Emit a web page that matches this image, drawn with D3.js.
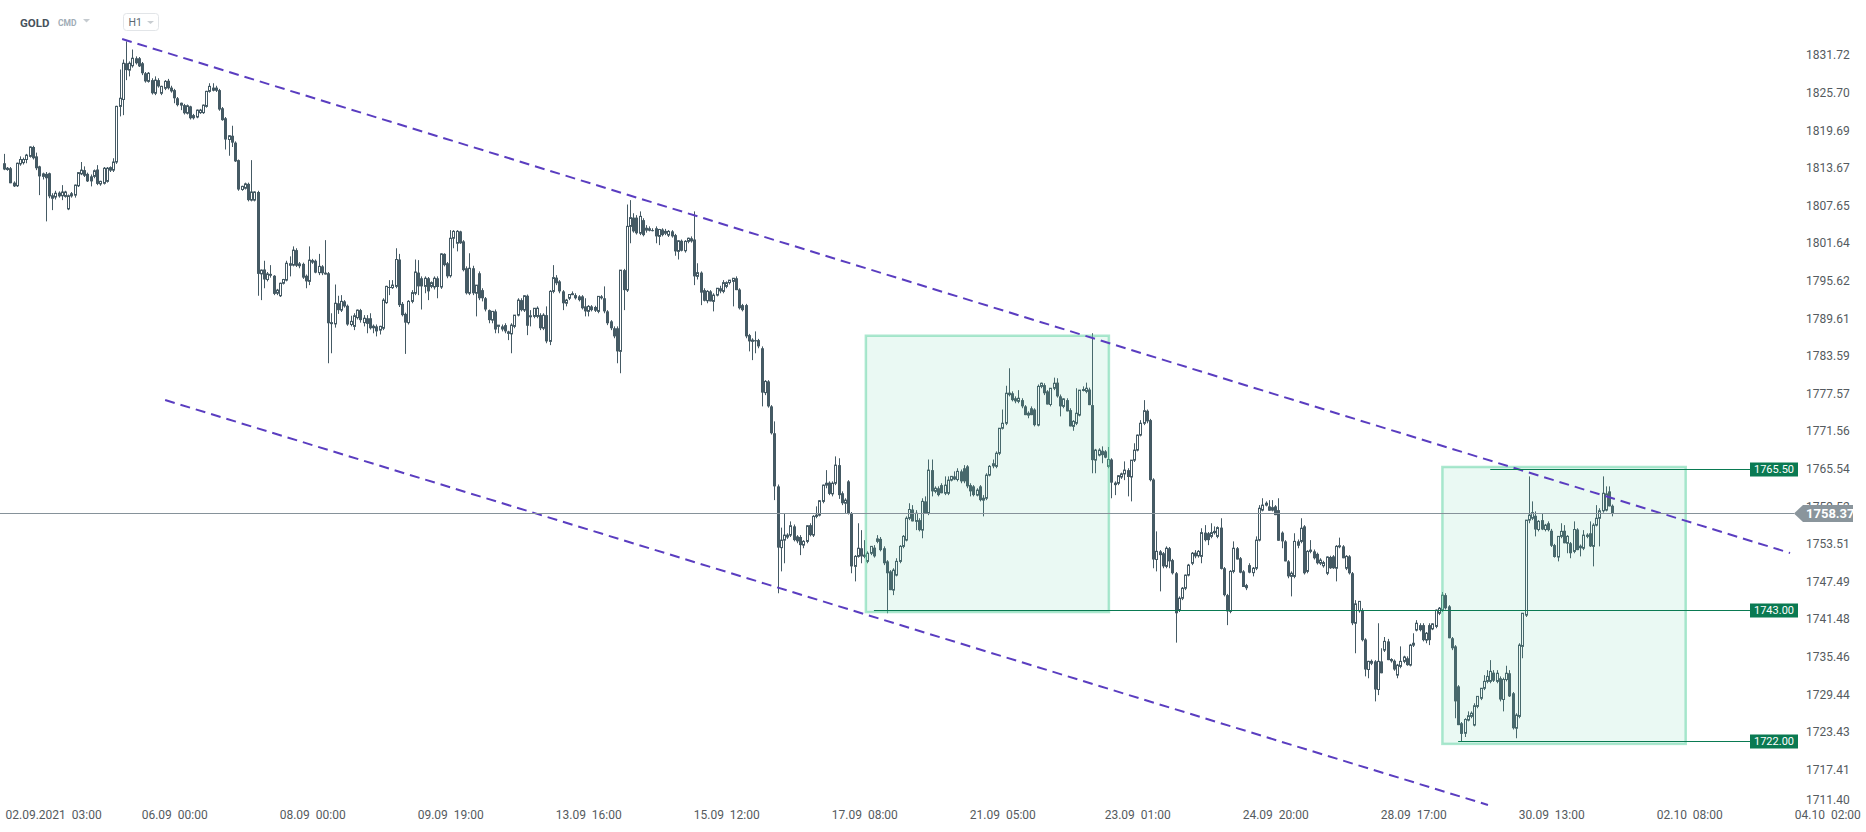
<!DOCTYPE html>
<html><head><meta charset="utf-8">
<script src="https://cdn.jsdelivr.net/npm/d3@7"></script>
<style>
html,body{margin:0;padding:0;background:#fff;}
svg{display:block;font-family:Roboto,"Noto Sans",sans-serif;}
text{white-space:pre;}
</style></head><body>
<svg id="chart" width="1866" height="832"></svg>
<script>
// ---------------- DATA ----------------
const symbolName = "GOLD", marketName = "CMD", intervalName = "H1";
const priceTicks = [1831.72,1825.70,1819.69,1813.67,1807.65,1801.64,1795.62,1789.61,1783.59,1777.57,1771.56,1765.54,1759.52,1753.51,1747.49,1741.48,1735.46,1729.44,1723.43,1717.41,1711.40];
const timeLabels = ["02.09.2021  03:00","06.09  00:00","08.09  00:00","09.09  19:00","13.09  16:00","15.09  12:00","17.09  08:00","21.09  05:00","23.09  01:00","24.09  20:00","28.09  17:00","30.09  13:00","02.10  08:00","04.10  02:00"];
const timeLabelIndex = [10,53,96,139,182,225,268,311,353,396,439,482,525,568];
const lastPrice = 1758.37;
const levelPrices = [1765.50, 1743.00, 1722.00];
const levelStartIndex = [463, 271, 453];
const zoneFrom = [268.5, 448.1];
const zoneTo = [344.2, 523.9];
const zoneHigh = [1786.8, 1765.8];
const zoneLow = [1742.6, 1721.5];
const channelUpper = [[36.8, 1834.28], [556.4, 1752.04]];
const channelLower = [[50.2, 1776.52], [462.3, 1711.72]];

// hourly candles [open, high, low, close]
const candlesA = [
[1814.4,1815.9,1813.3,1813.4],[1813.4,1813.8,1813.2,1813.6],[1813.6,1813.8,1811.2,1811.2],[1811.3,1811.5,1810.6,1810.7],
[1810.8,1814.5,1810.6,1814.4],[1814.3,1815.5,1814.0,1815.0],[1814.5,1815.3,1814.2,1815.0],[1815.0,1815.9,1814.4,1815.7],
[1815.5,1817.1,1815.3,1817.0],[1817.0,1817.2,1815.0,1815.2],[1815.5,1816.1,1813.3,1813.6],[1813.9,1814.0,1809.3,1812.3],
[1812.3,1812.9,1811.8,1812.7],[1812.7,1813.0,1805.1,1812.0],[1812.8,1812.9,1808.8,1809.1],[1808.8,1809.6,1806.9,1809.2],
[1809.0,1810.0,1808.6,1809.6],[1809.7,1809.9,1808.9,1809.1],[1809.2,1810.9,1808.5,1809.8],[1809.1,1810.0,1808.9,1809.8],
[1807.1,1809.4,1806.9,1809.2],[1809.6,1809.8,1808.9,1809.1],[1809.3,1811.0,1808.9,1810.9],[1810.8,1813.0,1810.6,1812.9],
[1812.7,1814.6,1812.5,1813.3],[1813.3,1813.9,1812.2,1812.4],[1812.7,1812.9,1811.4,1811.5],[1812.3,1812.6,1810.7,1811.5],
[1812.3,1813.4,1812.0,1813.2],[1813.4,1814.1,1810.9,1811.1],[1811.1,1811.6,1810.8,1811.5],[1811.2,1813.8,1811.0,1813.6],
[1811.5,1813.8,1811.3,1813.6],[1813.3,1813.9,1813.0,1813.7],[1813.3,1815.2,1813.0,1814.6],[1814.6,1823.6,1814.3,1823.5],
[1823.5,1829.4,1821.9,1824.8],[1824.6,1831.0,1822.1,1830.4],[1830.4,1833.9,1827.7,1829.3],[1829.3,1830.7,1828.3,1830.4],
[1830.0,1832.6,1829.7,1831.2],[1831.2,1831.5,1830.2,1830.4],[1831.2,1831.4,1829.8,1829.9],[1830.4,1830.6,1828.5,1828.8],
[1828.8,1829.0,1827.3,1827.5],[1827.5,1829.0,1827.3,1828.8],[1827.7,1828.0,1825.4,1825.6],[1825.6,1828.3,1825.3,1827.7],
[1827.7,1828.0,1826.5,1826.7],[1825.6,1826.8,1825.3,1826.7],[1826.4,1827.7,1826.1,1827.5],[1827.6,1827.9,1826.2,1826.4],
[1826.5,1826.8,1825.7,1825.9],[1826.1,1826.3,1824.0,1824.8],[1824.8,1825.0,1823.5,1823.7],[1823.7,1824.1,1822.9,1824.0],
[1823.7,1823.9,1822.2,1822.4],[1822.4,1823.8,1822.2,1823.6],[1823.5,1823.6,1821.4,1821.6],[1822.1,1822.3,1821.4,1821.6],
[1821.8,1823.0,1821.6,1822.9],[1822.5,1823.1,1822.3,1822.9],[1822.5,1823.8,1822.3,1823.7],[1823.5,1826.0,1823.3,1825.9],
[1825.9,1827.2,1825.7,1826.7],[1826.5,1827.2,1825.9,1826.0],[1826.5,1826.8,1825.8,1826.0],[1826.1,1826.3,1822.8,1823.0],
[1823.2,1823.4,1821.2,1821.3],[1821.6,1821.8,1816.6,1818.2],[1818.2,1818.9,1815.6,1818.8],[1818.8,1820.4,1817.0,1817.7],
[1817.7,1817.9,1814.6,1814.7],[1814.9,1815.0,1810.0,1810.2],[1810.2,1810.8,1810.0,1810.7],[1810.4,1811.3,1810.2,1811.1],
[1811.1,1811.3,1808.3,1808.5],[1808.5,1814.9,1808.3,1809.8],[1808.5,1809.9,1808.3,1809.8]
];
const candlesB = [
[1809.8,1810.0,1793.2,1796.7],[1796.7,1797.4,1792.5,1797.3],[1797.4,1798.8,1794.4,1795.8],[1795.8,1797.0,1795.5,1796.7],
[1796.7,1798.1,1796.1,1796.4],[1796.4,1796.5,1793.3,1793.5],[1793.6,1794.3,1793.3,1794.1],[1793.2,1795.3,1793.0,1795.2],
[1795.2,1795.9,1795.0,1795.8],[1795.7,1798.8,1795.5,1798.4],[1798.4,1799.5,1796.3,1798.0],[1798.1,1801.1,1797.9,1800.5],
[1800.5,1800.8,1797.8,1798.0],[1798.0,1798.6,1797.6,1798.3],[1798.3,1798.5,1795.9,1796.1],[1796.4,1796.6,1794.4,1795.5],
[1795.5,1801.1,1794.9,1798.9],[1798.9,1799.1,1798.3,1798.5],[1798.8,1799.0,1796.8,1796.9],[1796.9,1799.9,1796.5,1797.9],
[1797.9,1798.1,1796.5,1796.8],[1796.9,1802.1,1796.6,1796.6],[1796.8,1797.0,1782.4,1788.8],[1788.8,1790.4,1784.0,1788.9],
[1788.7,1795.0,1788.1,1792.0],[1792.0,1793.2,1790.3,1790.9],[1790.9,1793.3,1790.6,1792.3],[1792.3,1792.5,1791.3,1791.5],
[1791.6,1791.8,1788.4,1788.6],[1788.6,1790.0,1788.3,1789.1],[1788.3,1790.4,1787.7,1790.0],[1789.7,1791.0,1789.4,1790.9],
[1790.9,1791.1,1788.9,1789.3],[1788.9,1790.1,1788.3,1789.6],[1789.6,1790.1,1787.2,1788.7],[1789.6,1790.4,1787.8,1788.0],
[1788.4,1788.6,1787.2,1788.0],[1788.3,1788.6,1786.7,1787.5],[1787.7,1788.4,1787.0,1788.3],[1788.0,1792.8,1787.7,1792.5],
[1792.1,1794.8,1791.9,1794.7],[1794.6,1795.7,1793.3,1794.5],[1794.5,1795.7,1794.3,1794.9],[1794.7,1800.8,1794.4,1799.0],
[1799.0,1799.9,1791.4,1791.7],[1791.9,1792.2,1789.9,1790.1],[1790.3,1790.5,1783.9,1788.9],[1788.9,1792.5,1788.6,1792.3],
[1792.3,1794.1,1792.0,1793.7],[1793.6,1799.0,1793.3,1797.0]
];
const candlesC = [
[1796.9,1798.9,1793.3,1794.7],[1796.0,1796.3,1791.0,1794.7],[1794.7,1796.3,1793.6,1796.0],[1796.0,1796.2,1792.5,1793.9],
[1794.7,1795.5,1794.4,1795.3],[1794.6,1796.3,1794.2,1796.0],[1796.0,1796.3,1792.8,1794.6],[1794.6,1800.0,1794.3,1799.9],
[1799.9,1800.0,1797.9,1798.1],[1798.4,1798.6,1796.0,1796.3],[1796.4,1803.7,1796.1,1802.4],[1802.4,1803.7,1800.8,1803.5],
[1801.6,1803.7,1800.3,1803.5],[1803.5,1803.6,1801.5,1801.6],[1801.9,1802.1,1797.1,1797.3],[1797.6,1797.9,1793.4,1793.6],
[1793.6,1800.0,1793.3,1797.6],[1797.6,1798.0,1793.3,1793.6],[1793.6,1794.9,1789.9,1794.9],[1796.8,1797.1,1792.5,1792.8],
[1794.1,1794.4,1792.3,1792.8],[1792.8,1793.0,1790.7,1791.0],[1790.9,1791.0,1788.8,1789.3],[1789.3,1790.7,1788.8,1790.7],
[1790.7,1791.0,1787.2,1787.8],[1788.3,1788.5,1787.2,1788.5],[1788.3,1788.6,1787.5,1787.8],[1788.5,1788.8,1787.2,1787.5],
[1787.5,1787.6,1786.1,1787.1],[1787.1,1788.8,1784.0,1788.5],[1788.3,1790.1,1788.0,1790.1],[1790.1,1792.8,1789.9,1792.5],
[1792.5,1792.8,1790.7,1790.9],[1790.9,1793.3,1790.6,1793.2],[1793.2,1793.4,1786.9,1788.4],[1789.9,1790.9,1788.3,1790.0],
[1789.9,1791.2,1789.6,1791.2],[1789.9,1791.5,1789.6,1791.2],[1790.1,1790.4,1787.7,1788.0],[1788.0,1790.4,1787.7,1790.1],
[1790.1,1791.5,1785.6,1785.9],[1785.9,1794.1,1785.3,1793.9],[1793.9,1798.1,1793.6,1796.1],[1796.1,1796.5,1794.9,1795.2],
[1795.5,1795.7,1793.6,1793.9],[1793.9,1794.1,1790.9,1792.0],[1792.0,1792.7,1791.5,1792.5],[1792.8,1793.4,1792.5,1793.4],
[1793.6,1793.9,1793.3,1793.3],[1793.3,1793.6,1792.6,1792.8],[1793.1,1793.3,1792.3,1792.5],[1793.1,1793.3,1791.0,1791.2],
[1791.5,1792.8,1789.9,1790.7],[1790.7,1791.7,1789.9,1791.5],[1791.5,1791.7,1790.7,1790.9],[1791.4,1791.6,1790.6,1790.8],
[1790.7,1793.1,1790.4,1793.1],[1793.1,1793.3,1792.6,1792.8],[1792.8,1794.7,1790.4,1790.7],[1790.7,1790.9,1788.5,1788.8],
[1789.1,1789.3,1787.7,1788.0],[1788.0,1788.3,1786.4,1786.7],[1788.0,1788.3,1782.4,1784.3],[1784.3,1797.3,1780.8,1797.3],
[1797.3,1797.5,1790.9,1794.1],[1794.1,1807.8,1793.8,1804.3],[1804.3,1808.5,1801.6,1805.7],[1805.7,1806.4,1803.3,1803.5],
[1805.7,1806.1,1803.0,1803.2],[1803.2,1806.7,1802.9,1805.9],[1805.3,1805.6,1802.7,1802.9],[1803.7,1804.5,1803.3,1804.0],
[1804.0,1804.3,1803.5,1803.6],[1803.7,1804.0,1803.5,1803.6],[1804.0,1804.3,1801.6,1802.7],[1802.7,1803.9,1801.3,1803.8],
[1803.8,1804.0,1802.7,1802.9],[1803.2,1803.9,1802.9,1803.5],[1802.9,1803.7,1802.6,1803.5],[1803.5,1803.7,1802.5,1802.7],
[1802.9,1803.1,1799.6,1800.3],[1800.3,1802.1,1799.0,1802.0],[1802.0,1802.2,1800.3,1800.4],[1800.4,1802.1,1800.1,1801.9],
[1801.9,1802.5,1801.6,1802.4],[1802.4,1802.7,1801.7,1801.9],[1802.2,1806.7,1794.9,1796.3],[1796.3,1798.4,1795.8,1796.9],
[1796.9,1797.1,1791.7,1793.7],[1794.1,1794.4,1792.3,1792.4],[1792.4,1794.1,1792.0,1793.9],[1793.9,1794.1,1792.3,1792.3],
[1792.3,1793.6,1790.7,1793.3],[1793.3,1794.4,1793.1,1794.4],[1794.4,1794.8,1793.6,1793.9],[1793.9,1795.7,1793.6,1795.3],
[1794.7,1795.5,1794.4,1795.3],[1795.3,1795.7,1795.0,1795.7],[1795.5,1796.0,1791.5,1796.0],[1796.0,1796.3,1794.1,1794.1],
[1794.2,1794.4,1791.0,1791.2],[1791.7,1791.9,1790.7,1790.9],[1791.7,1791.9,1786.4,1786.7],[1786.9,1787.1,1784.3,1785.9],
[1785.9,1786.4,1782.9,1786.1],[1786.1,1787.5,1784.0,1785.9],[1786.1,1786.3,1784.8,1785.1]
];
const candlesD = [
[1784.8,1785.1,1775.5,1777.7],[1777.7,1779.7,1777.3,1779.5],[1779.5,1779.7,1775.3,1775.5],[1775.5,1775.7,1771.0,1771.2],
[1771.2,1773.1,1760.5,1762.7],[1762.7,1763.0,1745.6,1752.9],[1752.9,1756.1,1749.1,1754.1],[1754.1,1758.4,1750.4,1754.9],
[1754.6,1755.2,1754.3,1754.9],[1754.9,1757.1,1754.6,1756.4],[1756.3,1756.6,1753.9,1754.1],[1754.7,1754.9,1753.6,1753.9],
[1754.6,1754.9,1751.7,1753.3],[1753.3,1754.1,1752.8,1753.9],[1753.9,1756.5,1753.6,1756.4],[1756.5,1756.8,1754.7,1754.9],
[1754.9,1758.1,1754.6,1757.9],[1757.9,1759.5,1757.6,1758.1],[1758.1,1760.5,1757.9,1760.4],[1760.3,1763.0,1760.0,1762.9],
[1762.9,1765.3,1762.4,1763.2],[1763.3,1763.5,1761.3,1761.5],[1761.5,1763.5,1761.1,1763.2],[1763.2,1767.5,1762.9,1766.1],
[1766.1,1767.2,1760.7,1761.3],[1761.6,1761.9,1759.7,1760.0],[1760.0,1760.8,1758.4,1760.5],[1763.5,1763.7,1758.2,1758.4],
[1758.4,1758.6,1748.8,1749.9],[1749.9,1751.7,1747.5,1751.5],[1751.5,1756.8,1751.3,1752.8],[1752.8,1755.7,1750.4,1751.5],
[1751.5,1754.1,1751.2,1751.7],[1750.7,1752.3,1750.4,1752.0],[1752.0,1753.1,1751.7,1753.1],[1752.9,1753.3,1751.3,1751.5],
[1753.9,1754.9,1753.6,1754.3],[1754.3,1754.6,1752.3,1752.5],[1752.8,1753.1,1750.1,1750.4],[1750.7,1750.9,1742.4,1748.8],
[1749.1,1749.3,1746.1,1746.1],[1746.1,1749.6,1745.3,1749.3],[1748.5,1751.2,1748.3,1750.7],[1750.7,1753.3,1750.4,1753.1],
[1753.1,1754.9,1752.8,1754.7],[1754.1,1757.9,1753.9,1757.6],[1757.6,1760.0,1757.3,1759.0],[1759.0,1759.7,1757.1,1757.1],
[1757.1,1758.9,1755.7,1758.4],[1757.3,1757.6,1755.5,1755.7],[1755.7,1760.8,1754.4,1760.3],[1760.3,1761.1,1758.4,1758.4],
[1758.4,1767.0,1758.1,1765.3],[1765.3,1767.0,1761.1,1761.9],[1761.9,1762.7,1761.6,1762.4],[1762.4,1762.7,1761.1,1761.3],
[1762.9,1763.2,1761.6,1761.6],[1761.6,1764.3,1761.3,1762.9],[1761.6,1764.3,1761.3,1763.7],[1763.7,1764.3,1763.5,1764.3],
[1764.3,1765.1,1763.7,1763.8],[1763.8,1765.6,1763.5,1765.1],[1765.1,1765.4,1763.2,1763.5],[1765.6,1766.1,1763.2,1763.5],
[1765.9,1766.1,1762.4,1762.7],[1762.9,1763.2,1761.1,1761.9],[1762.7,1762.9,1761.1,1761.3],[1761.3,1762.4,1761.1,1762.1],
[1762.7,1762.9,1760.3,1760.5],[1760.5,1761.3,1757.9,1760.8],[1760.8,1764.8,1760.5,1764.5],[1764.5,1766.1,1764.3,1765.9],
[1766.4,1767.0,1765.6,1765.9],[1765.9,1768.3,1765.6,1768.0],[1768.0,1772.0,1767.7,1772.0],[1772.0,1775.0,1771.8,1772.8],
[1772.8,1778.8,1772.5,1777.6],[1777.7,1781.6,1777.1,1777.3],[1777.6,1777.9,1776.3,1776.5],[1776.8,1777.1,1776.0,1776.3],
[1776.3,1778.1,1776.0,1776.8],[1776.5,1776.8,1775.2,1775.5],[1775.5,1775.7,1774.1,1774.1],[1774.1,1774.7,1773.6,1774.4],
[1775.2,1775.5,1774.1,1774.1],[1775.0,1775.2,1772.3,1772.5],[1772.5,1779.0,1772.3,1778.7],[1778.7,1779.3,1778.4,1779.2],
[1778.9,1779.2,1777.3,1777.6],[1777.9,1778.1,1775.8,1775.8],[1775.8,1778.4,1775.5,1778.4],[1778.4,1780.1,1778.1,1779.2],
[1779.3,1780.0,1776.9,1777.1],[1777.1,1777.4,1773.9,1775.5],[1775.5,1776.8,1775.2,1776.7],[1776.5,1776.8,1774.7,1774.7],
[1774.9,1775.2,1772.3,1772.3],[1772.3,1773.3,1771.6,1773.1],[1772.8,1778.4,1772.5,1774.4],[1774.1,1778.1,1773.9,1778.1],
[1778.1,1778.7,1777.9,1778.2],[1777.9,1779.3,1777.6,1778.4],[1778.2,1778.5,1775.7,1775.7],[1775.7,1787.2,1764.8,1766.9],
[1766.9,1768.7,1764.8,1768.5],[1767.7,1768.8,1767.5,1768.5],[1768.4,1769.1,1766.4,1767.7],[1768.3,1768.5,1767.2,1767.3]
];
const candlesE = [
[1765.9,1769.0,1765.6,1767.0],[1767.0,1767.2,1760.8,1763.3],[1763.3,1763.5,1761.3,1762.9],[1763.2,1764.5,1762.9,1764.4],
[1764.2,1764.9,1763.9,1764.7],[1764.7,1766.7,1763.7,1765.3],[1765.3,1765.6,1761.1,1764.2],[1764.2,1766.9,1760.3,1766.9],
[1766.9,1769.6,1766.6,1768.5],[1768.5,1771.0,1768.3,1770.9],[1770.9,1773.3,1770.7,1772.8],[1772.8,1776.5,1772.5,1774.8],
[1774.8,1775.0,1772.8,1773.1],[1773.3,1773.5,1763.5,1763.7],[1763.8,1764.0,1749.6,1751.0],[1751.0,1755.5,1749.1,1752.3],
[1752.3,1752.5,1745.9,1751.7],[1752.0,1752.2,1749.6,1749.9],[1749.9,1753.1,1749.6,1752.8],[1752.8,1753.0,1749.6,1750.7],
[1750.9,1751.1,1748.6,1748.8],[1748.8,1749.0,1737.7,1742.4],[1742.9,1745.1,1742.6,1744.8],[1744.8,1746.6,1744.5,1746.4],
[1746.4,1748.6,1746.1,1748.5],[1748.5,1750.3,1748.3,1750.1],[1750.4,1752.2,1750.1,1752.0],[1752.1,1752.5,1751.2,1751.5],
[1751.6,1752.5,1751.3,1752.3],[1751.5,1756.0,1750.4,1755.3],[1755.3,1756.5,1753.9,1754.1],[1755.2,1755.4,1753.3,1754.1],
[1754.7,1756.8,1754.4,1755.3],[1755.3,1756.3,1755.0,1755.5],[1754.7,1756.3,1754.4,1756.1],[1756.1,1757.6,1749.4,1749.5],
[1749.6,1749.8,1745.1,1745.3],[1745.3,1745.5,1740.5,1742.7],[1742.7,1749.3,1742.4,1749.1],[1749.1,1753.9,1748.8,1752.8],
[1752.8,1753.0,1751.0,1751.0],[1751.2,1751.4,1748.8,1748.9],[1749.1,1749.3,1746.6,1746.6],[1746.9,1747.1,1746.1,1746.4],
[1750.1,1750.4,1748.8,1748.9],[1748.9,1749.8,1748.3,1749.6],[1749.6,1754.7,1749.3,1754.1],[1754.1,1759.7,1753.9,1759.2],
[1758.9,1760.8,1758.7,1759.7],[1759.7,1760.3,1759.5,1760.0],[1759.5,1760.5,1758.8,1758.8],[1758.9,1760.5,1758.7,1759.3],
[1759.5,1759.7,1758.1,1758.1],[1758.9,1760.8,1754.0,1754.0],[1755.3,1755.5,1752.8,1753.9],[1753.9,1754.1,1750.7,1750.7],
[1750.7,1750.9,1748.0,1748.3],[1748.3,1749.1,1745.1,1748.8],[1748.3,1755.2,1748.0,1753.9],[1753.9,1754.2,1752.8,1753.2],
[1753.9,1757.6,1753.6,1756.0],[1756.3,1756.5,1748.6,1748.8],[1749.1,1752.5,1748.8,1752.3],[1752.3,1754.1,1752.0,1752.5],
[1752.3,1752.6,1751.0,1751.2],[1751.9,1752.1,1750.2,1750.4],[1750.4,1751.2,1750.1,1750.9],[1750.0,1750.8,1749.7,1750.5],
[1748.8,1751.5,1748.5,1751.4],[1751.4,1751.6,1749.5,1749.6],[1751.5,1751.7,1749.5,1749.6],[1749.6,1753.3,1747.5,1753.1],
[1753.1,1754.5,1752.8,1753.2],[1753.1,1753.3,1751.2,1751.2],[1749.6,1751.7,1749.3,1751.5],[1751.5,1751.7,1748.6,1748.8],
[1748.8,1749.0,1740.5,1740.8],[1740.8,1744.5,1736.0,1743.9],[1742.8,1744.3,1742.5,1744.3],[1742.9,1743.2,1737.9,1738.1],
[1738.2,1738.4,1732.3,1733.4],[1733.4,1734.8,1732.0,1734.7],[1734.4,1735.0,1734.1,1734.7],[1734.7,1734.9,1728.3,1730.2],
[1730.2,1740.8,1729.3,1734.7],[1734.7,1736.8,1732.8,1732.8],[1736.5,1738.6,1736.2,1737.9],[1737.9,1738.3,1734.9,1734.9],
[1734.8,1735.2,1734.5,1735.0],[1734.8,1735.0,1733.2,1733.4],[1732.5,1734.3,1732.0,1734.1],[1733.9,1737.1,1733.6,1734.7],
[1734.7,1735.6,1734.4,1735.4],[1735.2,1735.5,1734.0,1734.1],[1734.1,1737.5,1733.9,1737.3],[1737.3,1739.2,1737.0,1737.6],
[1739.7,1741.3,1739.5,1740.8],[1740.5,1740.8,1739.5,1739.7],[1740.5,1740.8,1737.9,1738.1],[1738.1,1739.4,1737.6,1739.2],
[1740.5,1740.8,1737.3,1738.1],[1739.9,1740.8,1739.7,1740.7],[1740.3,1743.0,1740.0,1742.9],[1742.4,1743.4,1742.1,1743.2],
[1742.9,1745.8,1742.6,1745.3],[1745.3,1745.6,1743.0,1743.2],[1743.5,1743.7,1738.4,1738.4],[1738.4,1738.6,1736.5,1736.8],
[1737.1,1737.3,1725.6,1728.3]
];
const candlesF = [
[1730.7,1730.9,1724.5,1724.5],[1724.8,1725.0,1721.9,1723.1],[1723.2,1725.6,1722.6,1725.4],[1725.3,1726.7,1725.1,1726.0],
[1725.9,1726.7,1725.6,1726.4],[1724.5,1728.0,1724.3,1727.6],[1727.5,1729.1,1727.2,1729.1],[1728.8,1730.4,1728.5,1730.4],
[1730.4,1732.5,1730.1,1731.5],[1731.5,1733.3,1731.2,1732.3],[1731.5,1734.9,1731.2,1733.1],[1732.9,1733.3,1731.4,1731.6],
[1731.5,1733.3,1731.2,1732.8],[1732.0,1732.3,1728.3,1728.6],[1728.6,1732.1,1726.7,1731.8],[1731.8,1734.0,1731.5,1732.8],
[1732.8,1733.3,1729.0,1729.1],[1729.6,1729.8,1723.8,1724.0],[1724.0,1726.4,1722.4,1726.1],[1725.9,1737.6,1725.6,1737.3],
[1737.1,1742.4,1735.2,1742.4],[1742.1,1757.3,1741.8,1757.3],[1757.3,1764.3,1756.8,1758.1],[1757.6,1760.3,1757.3,1758.5],
[1758.0,1758.7,1754.7,1755.8],[1755.8,1757.3,1755.5,1757.1],[1757.3,1758.4,1755.7,1755.8],[1755.8,1756.7,1755.5,1756.5],
[1756.8,1757.1,1755.5,1755.7],[1755.6,1755.9,1753.0,1753.2],[1753.3,1753.5,1751.3,1751.4],[1751.4,1754.7,1750.7,1754.7],
[1754.7,1756.8,1754.4,1755.5],[1755.6,1756.5,1753.6,1753.6],[1753.6,1754.9,1752.0,1754.7],[1753.6,1753.8,1751.2,1752.0],
[1752.3,1757.1,1752.0,1755.8],[1755.8,1756.0,1752.5,1752.5],[1753.2,1753.4,1751.5,1752.8],[1752.8,1755.7,1752.5,1754.9],
[1754.7,1755.2,1754.4,1754.9],[1755.2,1757.1,1753.0,1753.1],[1753.1,1756.8,1749.9,1756.5],[1756.5,1759.7,1756.3,1757.6],
[1757.6,1759.2,1753.1,1758.8],[1758.8,1764.3,1758.5,1761.6],[1758.9,1762.7,1758.7,1761.5],[1761.9,1762.7,1759.5,1759.5],
[1759.6,1759.8,1757.9,1758.3]
];

// ---------------- DRAWING ----------------
const candles = [].concat(candlesA, candlesB, candlesC, candlesD, candlesE, candlesF);
const svg = d3.select('#chart');
const candleColor = '#455a64';
const x = d3.scaleLinear().domain([0, candles.length - 1]).range([4, 4 + (candles.length - 1) * 3.21]);
const y = d3.scaleLinear().domain([1711.40, 1831.72]).range([807, 55]);

// candles
const cg = svg.append('g');
cg.selectAll('line').data(candles).join('line')
  .attr('x1', (d, i) => Math.round(x(i)) + 0.5)
  .attr('x2', (d, i) => Math.round(x(i)) + 0.5)
  .attr('y1', d => y(d[1])).attr('y2', d => y(d[2]))
  .attr('stroke', candleColor).attr('stroke-width', 1);
cg.selectAll('rect').data(candles).join('rect')
  .attr('x', (d, i) => d[3] >= d[0] ? Math.round(x(i)) - 0.5 : Math.round(x(i)) - 1)
  .attr('width', d => d[3] >= d[0] ? 2 : 3)
  .attr('y', d => y(Math.max(d[0], d[3])))
  .attr('height', d => Math.max(1, Math.abs(y(d[0]) - y(d[3]))))
  .attr('fill', d => d[3] >= d[0] ? '#ffffff' : candleColor)
  .attr('stroke', d => d[3] >= d[0] ? candleColor : 'none')
  .attr('stroke-width', 1);

// zones
svg.append('g').selectAll('rect').data(zoneFrom).join('rect')
  .attr('x', (d, i) => x(zoneFrom[i]))
  .attr('width', (d, i) => x(zoneTo[i]) - x(zoneFrom[i]))
  .attr('y', (d, i) => y(zoneHigh[i]))
  .attr('height', (d, i) => y(zoneLow[i]) - y(zoneHigh[i]))
  .attr('fill', 'rgba(90,210,160,0.13)')
  .attr('stroke', 'rgba(90,210,160,0.5)')
  .attr('stroke-width', 2.5);

// channel lines
const line = d3.line().x(d => x(d[0])).y(d => y(d[1]));
[channelUpper, channelLower].forEach(pts => {
  svg.append('path').attr('d', line(pts))
    .attr('fill', 'none').attr('stroke', '#5a3dc0')
    .attr('stroke-width', 2).attr('stroke-dasharray', '10,6');
});

// current price line
svg.append('line').attr('x1', 0).attr('x2', 1794)
  .attr('y1', Math.round(y(lastPrice)) + 0.5).attr('y2', Math.round(y(lastPrice)) + 0.5)
  .attr('stroke', '#86929a').attr('stroke-width', 1);

// level lines + labels
const lg = svg.append('g');
levelPrices.forEach((p, i) => {
  const yy = Math.round(y(p)) + 0.5;
  lg.append('line').attr('x1', x(levelStartIndex[i])).attr('x2', 1750)
    .attr('y1', yy).attr('y2', yy).attr('stroke', '#0a7a52').attr('stroke-width', 1.2);
  lg.append('rect').attr('x', 1750).attr('y', yy - 7).attr('width', 48).attr('height', 14).attr('fill', '#0a7a52');
  lg.append('text').attr('x', 1774).attr('y', yy + 3.8).attr('text-anchor', 'middle')
    .attr('fill', '#ffffff').attr('font-size', 11).text(p.toFixed(2));
});

// y axis
const yAxis = svg.append('g').attr('transform', 'translate(1799,0)')
  .call(d3.axisRight(y).tickValues(priceTicks).tickSize(0).tickPadding(7).tickFormat(d => d.toFixed(2)));
yAxis.select('.domain').remove();
yAxis.style('color', '#555b60').selectAll('text').attr('font-size', 12).attr('font-family', 'Roboto, sans-serif');
yAxis.selectAll('.tick').filter(d => d === 1711.40).select('text').attr('transform', 'translate(0,-7)');

// x axis
const xAxis = svg.append('g').attr('transform', 'translate(0,802)')
  .call(d3.axisBottom(x).tickValues(timeLabelIndex).tickSize(0).tickPadding(8).tickFormat((d, i) => timeLabels[i]));
xAxis.select('.domain').remove();
xAxis.style('color', '#555b60').selectAll('text').attr('font-size', 12).attr('font-family', 'Roboto, sans-serif');
xAxis.selectAll('.tick text').each(function () {
  const tick = this.parentNode;
  const tx = x(d3.select(tick).datum());
  const w = this.getComputedTextLength();
  if (tx - w / 2 < 5) d3.select(this).attr('x', 5 + w / 2 - tx);
});

// last price tag
const ty = y(lastPrice);
svg.append('path')
  .attr('d', `M1794,${ty} L1803,${ty - 8.5} L1853,${ty - 8.5} L1853,${ty + 8.5} L1803,${ty + 8.5} Z`)
  .attr('fill', '#8a959c');
svg.append('text').attr('x', 1806).attr('y', ty + 4.6).attr('fill', '#ffffff')
  .attr('font-size', 13).attr('font-weight', 'bold').text(lastPrice.toFixed(2));

// header
const hd = svg.append('g');
hd.append('text').attr('x', 20).attr('y', 27).attr('font-size', 11.5).attr('font-weight', 'bold')
  .attr('fill', '#47525c').text(symbolName);
hd.append('text').attr('x', 58).attr('y', 25.5).attr('font-size', 8.5).attr('font-weight', 'bold')
  .attr('fill', '#a0acb6').text(marketName);
hd.append('path').attr('d', 'M83,19 L90,19 L86.5,22.5 Z').attr('fill', '#c5cbd0');
hd.append('rect').attr('x', 123.5).attr('y', 13.5).attr('width', 35).attr('height', 17).attr('rx', 3)
  .attr('fill', '#fff').attr('stroke', '#e2e5e8');
hd.append('text').attr('x', 128.5).attr('y', 26).attr('font-size', 10.5).attr('fill', '#5c6770').text(intervalName);
hd.append('path').attr('d', 'M147,21 L154,21 L150.5,24 Z').attr('fill', '#c8cdd1');
</script>
</body></html>
